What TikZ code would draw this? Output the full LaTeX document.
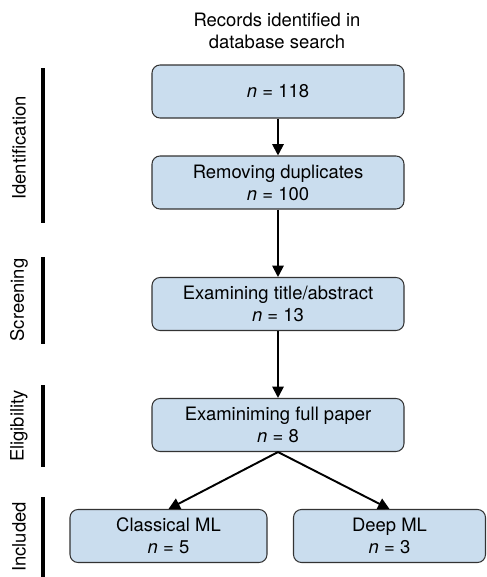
\documentclass[tikz,border=0pt]{standalone}
\usepackage{fontspec}
\setmainfont{TeX Gyre Heros}
\usepackage{tikz}
\usetikzlibrary{arrows.meta, positioning}
\definecolor{boxblue}{RGB}{202, 221, 238}
\definecolor{boxedge}{RGB}{51, 51, 51}

\begin{document}
\begin{tikzpicture}[
    font=\fontsize{10.5}{12.5}\selectfont,
    stagebox/.style={draw=boxedge, fill=boxblue, line width=0.6pt, rounded corners=0.16cm,
        minimum width=5.04cm, minimum height=1.06cm, align=center, inner sep=0pt},
    leafbox/.style={stagebox, minimum width=3.9cm},
    flow/.style={-{Triangle[length=6.5pt, width=6.5pt]}, line width=1.1pt},
    phasebar/.style={line width=2.2pt},
    phaselabel/.style={rotate=90, inner sep=0pt}
]
                \useasboundingbox (0,0) rectangle (9.72,-11.54);

                % Title
                \node[align=center] (title) at (5.54,-0.62) {Records identified in\\database search};

                % Stages
                \node[stagebox] (rec) at (5.56,-1.83) {\textit{n} = 118};
                \node[stagebox] (dup) at (5.56,-3.65) {Removing duplicates\\\textit{n} = 100};
                \node[stagebox] (abs) at (5.56,-6.08) {Examining title/abstract\\\textit{n} = 13};
                \node[stagebox] (full) at (5.56,-8.50) {Examiniming full paper\\\textit{n} = 8};
                \node[leafbox, minimum width=3.94cm] (classic) at (3.37,-10.72) {Classical ML\\\textit{n} = 5};
                \node[leafbox, minimum width=3.84cm] (deep) at (7.79,-10.72) {Deep ML\\\textit{n} = 3};

                % Arrows
                \draw[flow] (rec) -- (dup);
                \draw[flow] (dup) -- (abs);
                \draw[flow] (abs) -- (full);
                \draw[flow] (full.south) -- (classic.north);
                \draw[flow] (full.south) -- (deep.north);

                % Phase bars and labels
                \draw[phasebar] (0.86,-1.36) -- (0.86,-4.46);
                \node[phaselabel] (ident) at (0.38,-2.96) {Identification};
                \draw[phasebar] (0.86,-5.14) -- (0.86,-6.88);
                \node[phaselabel] (screen) at (0.38,-6.0) {Screening};
                \draw[phasebar] (0.86,-7.70) -- (0.86,-9.34);
                \node[phaselabel] (elig) at (0.38,-8.52) {Eligibility};
                \draw[phasebar] (0.86,-9.94) -- (0.86,-11.54);
                \node[phaselabel] (incl) at (0.38,-10.74) {Included};
\end{tikzpicture}
\end{document}
